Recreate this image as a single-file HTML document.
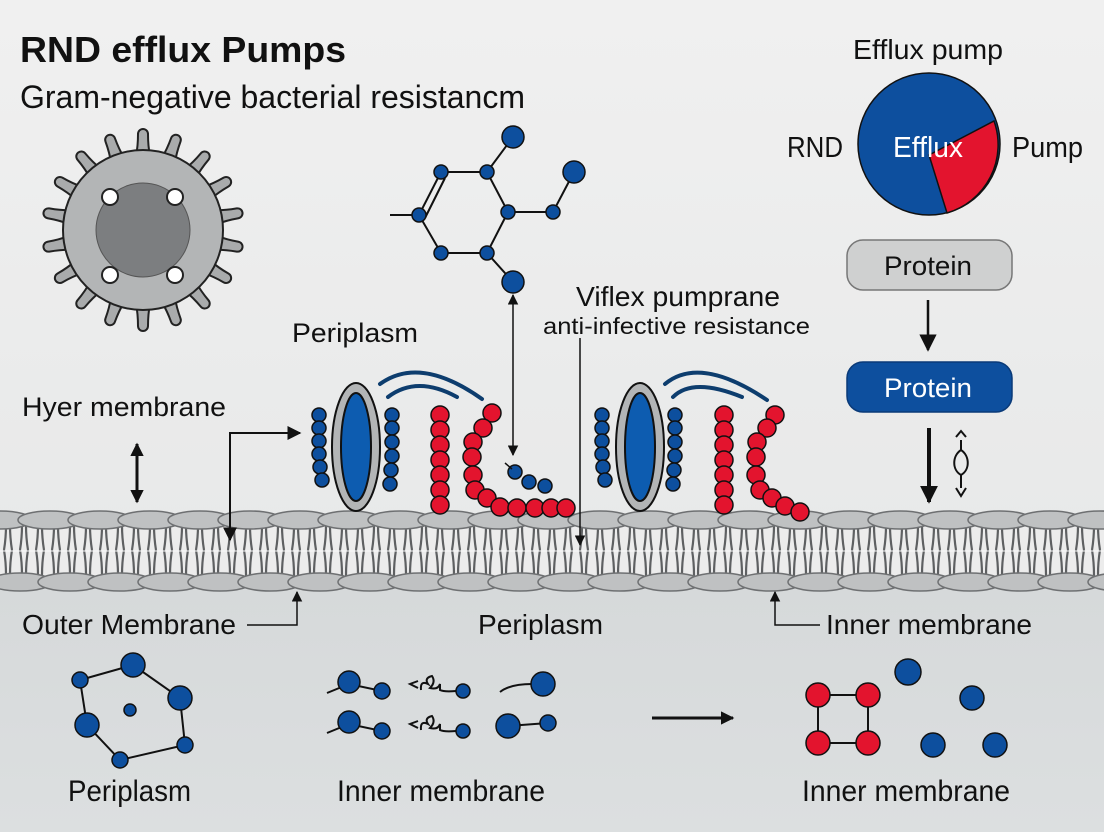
<!DOCTYPE html>
<html><head><meta charset="utf-8"><style>
html,body{margin:0;padding:0;background:#ececec}
svg{display:block}
text{font-family:"Liberation Sans",Arial,sans-serif;fill:#111}
</style></head><body>
<svg width="1104" height="832" viewBox="0 0 1104 832" xmlns="http://www.w3.org/2000/svg">
<defs>
<linearGradient id="bg" x1="0" y1="0" x2="0" y2="1">
<stop offset="0" stop-color="#f0f0f0"/><stop offset="0.65" stop-color="#e8e9e9"/><stop offset="1" stop-color="#e4e5e5"/>
</linearGradient>
<linearGradient id="bg2" x1="0" y1="0" x2="0" y2="1">
<stop offset="0" stop-color="#d6d9da"/><stop offset="1" stop-color="#dcdfe0"/>
</linearGradient>
<marker id="ah" viewBox="0 0 10 10" refX="9" refY="5" markerWidth="7" markerHeight="7" orient="auto-start-reverse"><path d="M0,0L10,5L0,10z" fill="#111"/></marker>
<marker id="ahb" viewBox="0 0 10 10" refX="9" refY="5" markerWidth="4.5" markerHeight="4.5" orient="auto-start-reverse"><path d="M0,0L10,5L0,10z" fill="#111"/></marker>
<pattern id="tails" x="0" y="0" width="16" height="50" patternUnits="userSpaceOnUse">
<path d="M4,0 Q6,12 6,25 Q6,38 4,50 M12,0 Q10,12 10,25 Q10,38 12,50" stroke="#5e6062" stroke-width="2.2" fill="none"/>
</pattern>
</defs>
<rect width="1104" height="832" fill="url(#bg)"/>
<rect y="588" width="1104" height="244" fill="url(#bg2)"/>

<!-- membrane -->
<rect x="0" y="526" width="1104" height="50" fill="#ececec"/>
<rect x="0" y="526" width="1104" height="50" fill="url(#tails)"/>
<line x1="0" y1="551" x2="1104" y2="551" stroke="#fafafa" stroke-width="1"/>
<g fill="#bfc1c2" stroke="#6e7072" stroke-width="1.5">
<ellipse cx="0" cy="520" rx="32" ry="9"/><ellipse cx="50" cy="520" rx="32" ry="9"/><ellipse cx="100" cy="520" rx="32" ry="9"/><ellipse cx="150" cy="520" rx="32" ry="9"/><ellipse cx="200" cy="520" rx="32" ry="9"/><ellipse cx="250" cy="520" rx="32" ry="9"/><ellipse cx="300" cy="520" rx="32" ry="9"/><ellipse cx="350" cy="520" rx="32" ry="9"/><ellipse cx="400" cy="520" rx="32" ry="9"/><ellipse cx="450" cy="520" rx="32" ry="9"/><ellipse cx="500" cy="520" rx="32" ry="9"/><ellipse cx="550" cy="520" rx="32" ry="9"/><ellipse cx="600" cy="520" rx="32" ry="9"/><ellipse cx="650" cy="520" rx="32" ry="9"/><ellipse cx="700" cy="520" rx="32" ry="9"/><ellipse cx="750" cy="520" rx="32" ry="9"/><ellipse cx="800" cy="520" rx="32" ry="9"/><ellipse cx="850" cy="520" rx="32" ry="9"/><ellipse cx="900" cy="520" rx="32" ry="9"/><ellipse cx="950" cy="520" rx="32" ry="9"/><ellipse cx="1000" cy="520" rx="32" ry="9"/><ellipse cx="1050" cy="520" rx="32" ry="9"/><ellipse cx="1100" cy="520" rx="32" ry="9"/>
<ellipse cx="20" cy="582" rx="32" ry="9"/><ellipse cx="70" cy="582" rx="32" ry="9"/><ellipse cx="120" cy="582" rx="32" ry="9"/><ellipse cx="170" cy="582" rx="32" ry="9"/><ellipse cx="220" cy="582" rx="32" ry="9"/><ellipse cx="270" cy="582" rx="32" ry="9"/><ellipse cx="320" cy="582" rx="32" ry="9"/><ellipse cx="370" cy="582" rx="32" ry="9"/><ellipse cx="420" cy="582" rx="32" ry="9"/><ellipse cx="470" cy="582" rx="32" ry="9"/><ellipse cx="520" cy="582" rx="32" ry="9"/><ellipse cx="570" cy="582" rx="32" ry="9"/><ellipse cx="620" cy="582" rx="32" ry="9"/><ellipse cx="670" cy="582" rx="32" ry="9"/><ellipse cx="720" cy="582" rx="32" ry="9"/><ellipse cx="770" cy="582" rx="32" ry="9"/><ellipse cx="820" cy="582" rx="32" ry="9"/><ellipse cx="870" cy="582" rx="32" ry="9"/><ellipse cx="920" cy="582" rx="32" ry="9"/><ellipse cx="970" cy="582" rx="32" ry="9"/><ellipse cx="1020" cy="582" rx="32" ry="9"/><ellipse cx="1070" cy="582" rx="32" ry="9"/><ellipse cx="1120" cy="582" rx="32" ry="9"/>
</g>

<!-- titles -->
<text x="20" y="62" font-size="36" font-weight="bold" textLength="326" lengthAdjust="spacingAndGlyphs">RND efflux Pumps</text>
<text x="20" y="108" font-size="32" textLength="505" lengthAdjust="spacingAndGlyphs">Gram-negative bacterial resistancm</text>

<!-- cell -->
<g transform="translate(143,230)" fill="#a9abac" stroke="#222" stroke-width="2">
<g id="sp">
<path d="M-7,-74 C-5,-84 -5,-90 -5,-96 A5,5 0 0 1 5,-96 C5,-90 5,-84 7,-74z"/>
</g>
<use href="#sp" transform="rotate(20)"/><use href="#sp" transform="rotate(40)"/><use href="#sp" transform="rotate(60)"/><use href="#sp" transform="rotate(80)"/><use href="#sp" transform="rotate(100)"/><use href="#sp" transform="rotate(120)"/><use href="#sp" transform="rotate(140)"/><use href="#sp" transform="rotate(160)"/><use href="#sp" transform="rotate(180)"/><use href="#sp" transform="rotate(200)"/><use href="#sp" transform="rotate(220)"/><use href="#sp" transform="rotate(240)"/><use href="#sp" transform="rotate(260)"/><use href="#sp" transform="rotate(280)"/><use href="#sp" transform="rotate(300)"/><use href="#sp" transform="rotate(320)"/><use href="#sp" transform="rotate(340)"/>
<circle r="80" fill="#b3b5b6"/>
<circle r="47" fill="#7c7e80" stroke="#555" stroke-width="1"/>
<g fill="#fff"><circle cx="-33" cy="-33" r="8"/><circle cx="32" cy="-33" r="8"/><circle cx="-33" cy="45" r="8"/><circle cx="32" cy="45" r="8"/></g>
</g>

<!-- molecule -->
<g stroke="#111" stroke-width="2" fill="none">
<path d="M390,215 L419,215 L441,172 L487,172 L508,212 L487,253 L441,253 L419,215"/>
<path d="M425,218 L445,178"/>
<path d="M487,172 L513,137 M508,212 L553,212 L574,172 M487,253 L513,282"/>
</g>
<g fill="#0d4f9e" stroke="#111" stroke-width="1.5">
<circle cx="441" cy="172" r="7"/><circle cx="487" cy="172" r="7"/><circle cx="419" cy="215" r="7"/><circle cx="508" cy="212" r="7"/><circle cx="553" cy="212" r="7"/><circle cx="441" cy="253" r="7"/><circle cx="487" cy="253" r="7"/>
<circle cx="513" cy="137" r="11"/><circle cx="574" cy="172" r="11"/><circle cx="513" cy="282" r="11"/>
</g>

<!-- pie -->
<circle cx="929" cy="144" r="71" fill="#0d4f9e" stroke="#111" stroke-width="1.5"/>
<path d="M929,155 L994,121 A71,71 0 0 1 947,213 Z" fill="#e3142e" stroke="#111" stroke-width="1.5"/>
<text x="853" y="59" font-size="28" textLength="150" lengthAdjust="spacingAndGlyphs">Efflux pump</text>
<text x="787" y="157" font-size="29" textLength="56" lengthAdjust="spacingAndGlyphs">RND</text>
<text x="1012" y="157" font-size="29" textLength="71" lengthAdjust="spacingAndGlyphs">Pump</text>
<text x="893" y="157" font-size="29" style="fill:#fff" textLength="70" lengthAdjust="spacingAndGlyphs">Efflux</text>

<!-- protein boxes -->
<rect x="847" y="240" width="165" height="50" rx="16" fill="#cfd0d0" stroke="#777" stroke-width="1.5"/>
<text x="884" y="275" font-size="27" textLength="88" lengthAdjust="spacingAndGlyphs">Protein</text>
<line x1="928" y1="300" x2="928" y2="350" stroke="#111" stroke-width="2.5" marker-end="url(#ah)"/>
<rect x="847" y="362" width="165" height="50" rx="16" fill="#0d4f9e" stroke="#0a3a78" stroke-width="1.5"/>
<text x="884" y="397" font-size="27" style="fill:#fff" textLength="88" lengthAdjust="spacingAndGlyphs">Protein</text>
<line x1="929" y1="428" x2="929" y2="502" stroke="#111" stroke-width="4" marker-end="url(#ahb)"/>
<g stroke="#111" stroke-width="2" fill="none">
<path d="M961,440 L961,450 M956,437 L961,431 L966,437 M961,450 C952,456 952,470 961,475 C970,470 970,456 961,450 M961,475 L961,488 M956,488 L961,496 L966,488"/>
</g>

<!-- labels middle -->
<text x="576" y="306" font-size="28" textLength="204" lengthAdjust="spacingAndGlyphs">Viflex pumprane</text>
<text x="543" y="334" font-size="23" textLength="267" lengthAdjust="spacingAndGlyphs">anti-infective resistance</text>
<text x="292" y="342" font-size="27" textLength="126" lengthAdjust="spacingAndGlyphs">Periplasm</text>
<text x="22" y="416" font-size="27" textLength="204" lengthAdjust="spacingAndGlyphs">Hyer membrane</text>

<!-- arrows -->
<g stroke="#111" stroke-width="2" fill="none">
<line x1="137" y1="444" x2="137" y2="502" stroke-width="3" marker-start="url(#ahb)" marker-end="url(#ahb)"/>
<path d="M230,540 L230,433 L300,433" marker-start="url(#ah)" marker-end="url(#ah)"/>
<line x1="513" y1="295" x2="513" y2="455" stroke-width="1.5" marker-start="url(#ah)" marker-end="url(#ah)"/>
<line x1="580" y1="338" x2="580" y2="545" stroke-width="1.5" marker-end="url(#ah)"/>
<path d="M247,625 L297,625 L297,592" stroke-width="1.5" marker-end="url(#ah)"/>
<path d="M820,625 L775,625 L775,592" stroke-width="1.5" marker-end="url(#ah)"/>
</g>

<!-- pumps -->
<g stroke="#0d3d6e" stroke-width="4" fill="none" stroke-linecap="round">
<path d="M380,384 Q420,355 482,399"/><path d="M388,397 Q417,375 457,397"/>
<path d="M665,384 Q700,355 767,400"/><path d="M673,397 Q693,377 742,397"/>
</g>
<g stroke="#111" stroke-width="2">
<ellipse cx="356" cy="447" rx="24" ry="64" fill="#b3b5b6"/><ellipse cx="356" cy="447" rx="15" ry="54" fill="#0d5cb0"/>
<ellipse cx="640" cy="447" rx="24" ry="64" fill="#b3b5b6"/><ellipse cx="640" cy="447" rx="15" ry="54" fill="#0d5cb0"/>
</g>
<g fill="#0d4f9e" stroke="#111" stroke-width="1.5">
<circle cx="319" cy="415" r="7"/><circle cx="319" cy="428" r="7"/><circle cx="319" cy="441" r="7"/><circle cx="319" cy="454" r="7"/><circle cx="320" cy="467" r="7"/><circle cx="322" cy="480" r="7"/>
<circle cx="392" cy="415" r="7"/><circle cx="392" cy="428" r="7"/><circle cx="392" cy="442" r="7"/><circle cx="392" cy="456" r="7"/><circle cx="391" cy="470" r="7"/><circle cx="390" cy="484" r="7"/>
<circle cx="602" cy="415" r="7"/><circle cx="602" cy="428" r="7"/><circle cx="602" cy="441" r="7"/><circle cx="602" cy="454" r="7"/><circle cx="603" cy="467" r="7"/><circle cx="605" cy="480" r="7"/>
<circle cx="675" cy="415" r="7"/><circle cx="675" cy="428" r="7"/><circle cx="675" cy="442" r="7"/><circle cx="675" cy="456" r="7"/><circle cx="674" cy="470" r="7"/><circle cx="673" cy="484" r="7"/>
<circle cx="515" cy="472" r="7"/><circle cx="529" cy="482" r="7"/><circle cx="545" cy="486" r="7"/>
</g>
<line x1="505" y1="463" x2="512" y2="469" stroke="#111" stroke-width="1.5"/>
<g fill="#e3142e" stroke="#111" stroke-width="1.5">
<circle cx="440" cy="415" r="9"/><circle cx="440" cy="430" r="9"/><circle cx="440" cy="445" r="9"/><circle cx="440" cy="460" r="9"/><circle cx="440" cy="475" r="9"/><circle cx="440" cy="490" r="9"/><circle cx="440" cy="505" r="9"/>
<circle cx="492" cy="413" r="9"/><circle cx="483" cy="428" r="9"/><circle cx="473" cy="442" r="9"/><circle cx="472" cy="457" r="9"/><circle cx="473" cy="475" r="9"/><circle cx="475" cy="490" r="9"/><circle cx="487" cy="498" r="9"/><circle cx="500" cy="507" r="9"/><circle cx="517" cy="508" r="9"/><circle cx="535" cy="508" r="9"/><circle cx="551" cy="508" r="9"/><circle cx="566" cy="508" r="9"/>
<circle cx="724" cy="415" r="9"/><circle cx="724" cy="430" r="9"/><circle cx="724" cy="445" r="9"/><circle cx="724" cy="460" r="9"/><circle cx="724" cy="475" r="9"/><circle cx="724" cy="490" r="9"/><circle cx="724" cy="505" r="9"/>
<circle cx="775" cy="415" r="9"/><circle cx="767" cy="428" r="9"/><circle cx="757" cy="442" r="9"/><circle cx="756" cy="457" r="9"/><circle cx="756" cy="475" r="9"/><circle cx="760" cy="490" r="9"/><circle cx="772" cy="498" r="9"/><circle cx="785" cy="506" r="9"/><circle cx="800" cy="512" r="9"/>
</g>

<!-- lower labels -->
<text x="22" y="634" font-size="28" textLength="214" lengthAdjust="spacingAndGlyphs">Outer Membrane</text>
<text x="478" y="634" font-size="28" textLength="125" lengthAdjust="spacingAndGlyphs">Periplasm</text>
<text x="826" y="634" font-size="28" textLength="206" lengthAdjust="spacingAndGlyphs">Inner membrane</text>
<text x="68" y="801" font-size="30" textLength="123" lengthAdjust="spacingAndGlyphs">Periplasm</text>
<text x="337" y="801" font-size="30" textLength="208" lengthAdjust="spacingAndGlyphs">Inner membrane</text>
<text x="802" y="801" font-size="30" textLength="208" lengthAdjust="spacingAndGlyphs">Inner membrane</text>

<!-- bottom left polygon -->
<path d="M80,680 L133,665 L180,698 L185,745 L120,760 L87,725 Z" stroke="#111" stroke-width="2" fill="none"/>
<g fill="#0d4f9e" stroke="#111" stroke-width="1.5">
<circle cx="80" cy="680" r="8"/><circle cx="133" cy="665" r="12"/><circle cx="180" cy="698" r="12"/><circle cx="185" cy="745" r="8"/><circle cx="120" cy="760" r="8"/><circle cx="87" cy="725" r="12"/><circle cx="130" cy="710" r="6"/>
</g>

<!-- bottom middle -->
<g stroke="#111" stroke-width="2" fill="none">
<path d="M327,693 L349,684 L382,691"/><path d="M327,733 L349,724 L382,731"/>
<path d="M500,692 Q510,684 532,684"/><path d="M508,726 L548,723"/>
<path d="M418,681 L410,684 L418,688 M421,690 Q420,680 428,684 Q424,678 432,676 Q436,682 430,688 Q438,690 440,684 L440,690 Q444,692 456,691"/>
<path d="M418,721 L410,724 L418,728 M421,730 Q420,720 428,724 Q424,718 432,716 Q436,722 430,728 Q438,730 440,724 L440,730 Q444,732 456,731"/>
<line x1="652" y1="718" x2="733" y2="718" stroke-width="3" marker-end="url(#ahb)"/>
<path d="M818,695 L868,695 L868,743 L818,743 Z"/>
</g>
<g fill="#0d4f9e" stroke="#111" stroke-width="1.5">
<circle cx="349" cy="682" r="11"/><circle cx="382" cy="691" r="8"/><circle cx="463" cy="691" r="7"/><circle cx="543" cy="684" r="12"/>
<circle cx="349" cy="722" r="11"/><circle cx="382" cy="731" r="8"/><circle cx="463" cy="731" r="7"/><circle cx="508" cy="726" r="12"/><circle cx="548" cy="723" r="8"/>
<circle cx="908" cy="672" r="13"/><circle cx="972" cy="698" r="12"/><circle cx="933" cy="745" r="12"/><circle cx="995" cy="745" r="12"/>
</g>
<g fill="#e3142e" stroke="#111" stroke-width="1.5">
<circle cx="818" cy="695" r="12"/><circle cx="868" cy="695" r="12"/><circle cx="818" cy="743" r="12"/><circle cx="868" cy="743" r="12"/>
</g>
</svg>
</body></html>
